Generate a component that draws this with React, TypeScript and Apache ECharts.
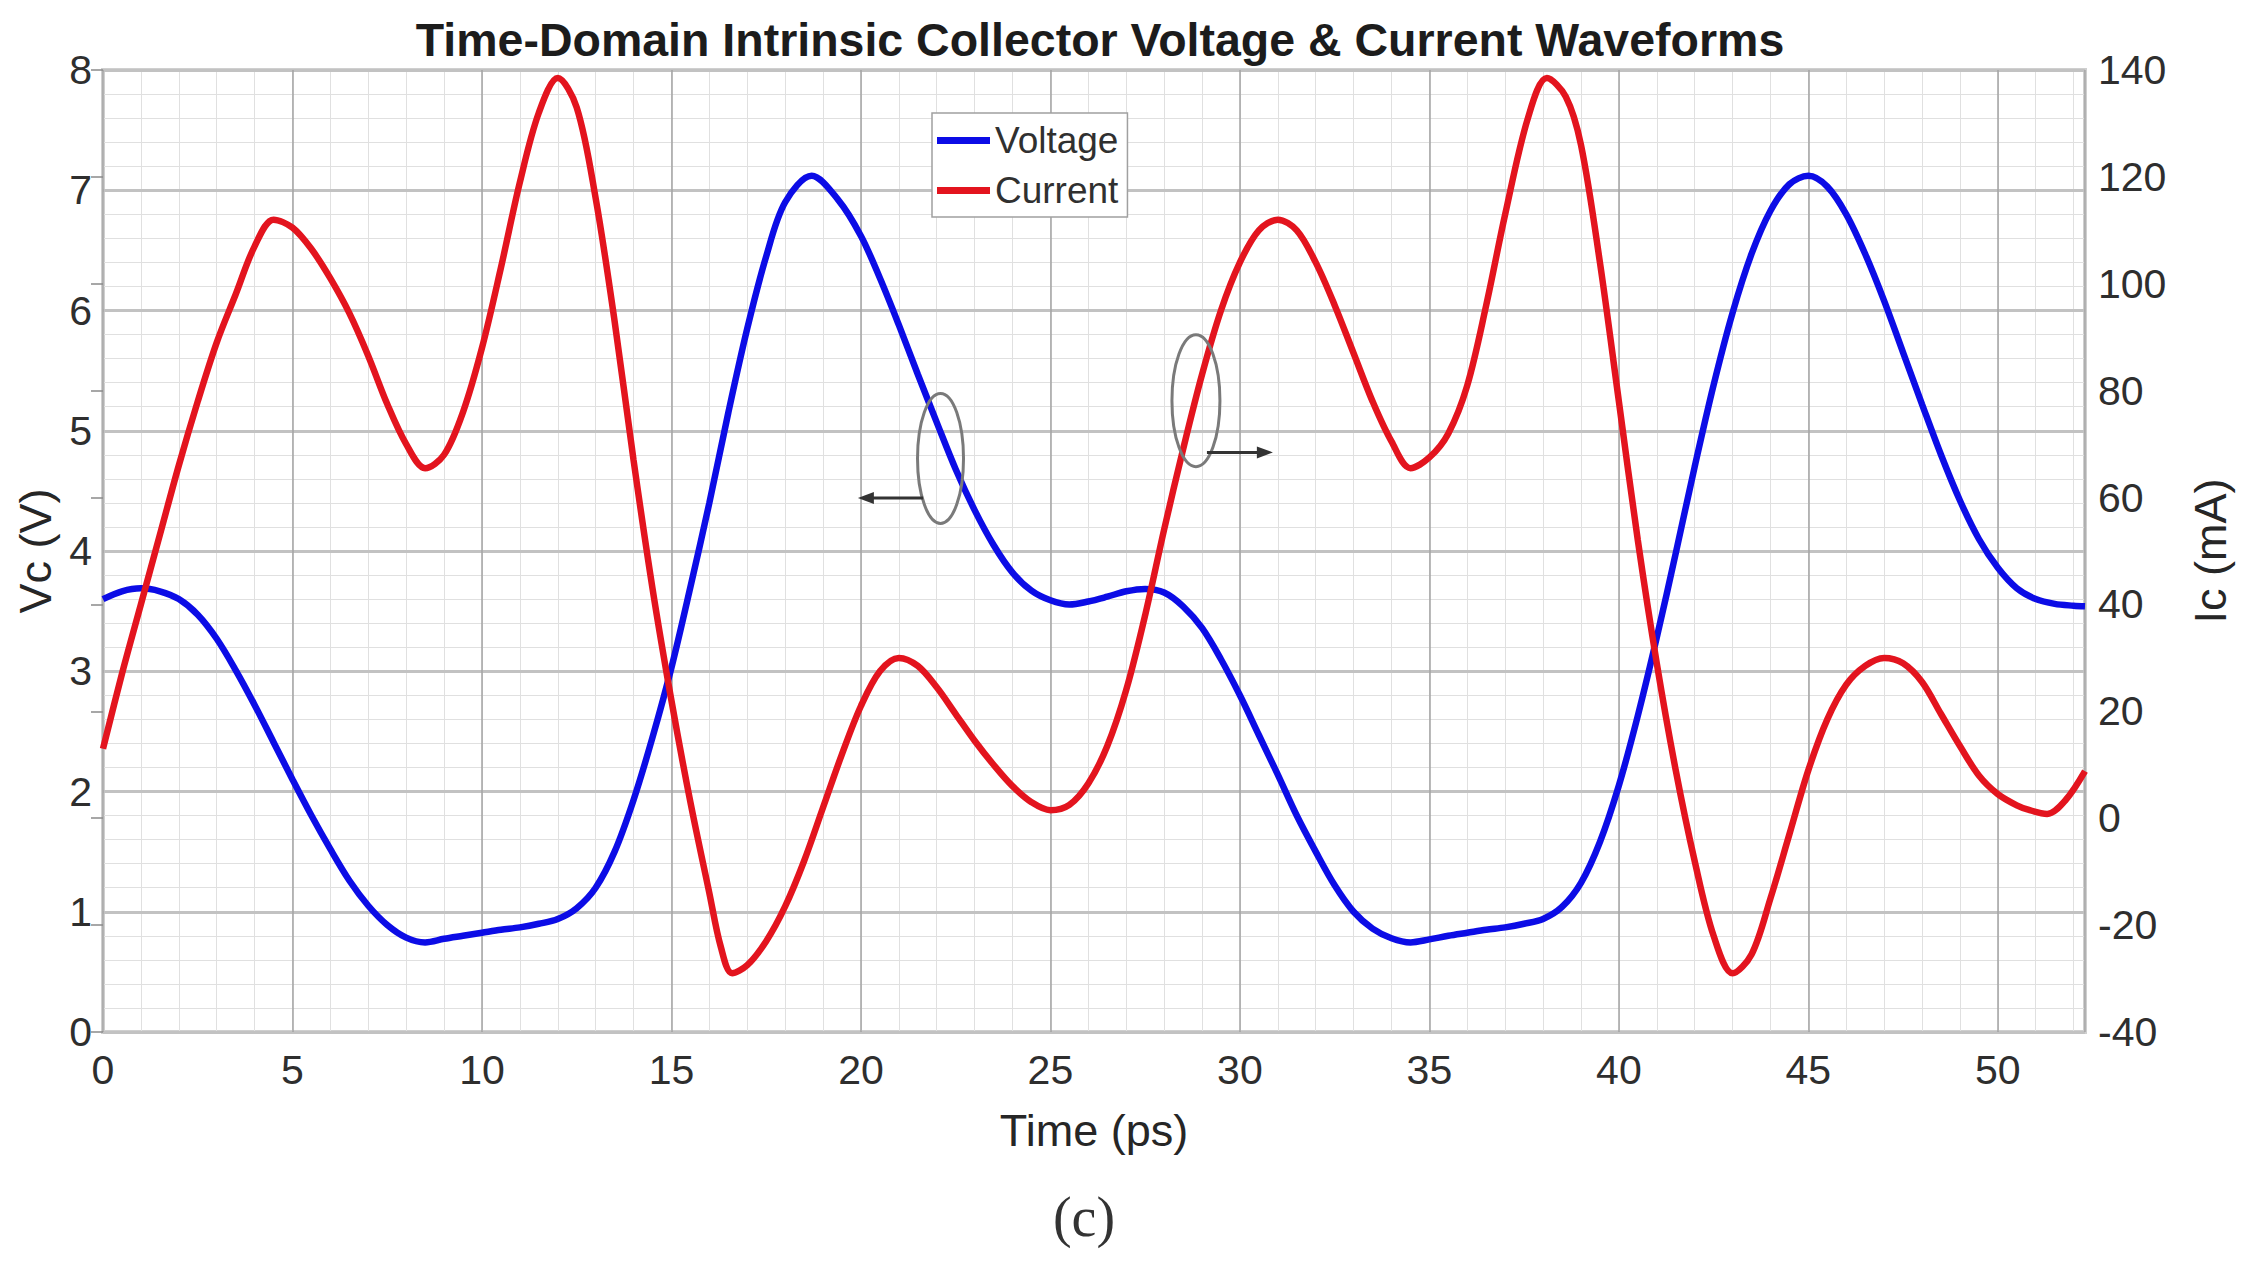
import React, { useEffect, useRef } from "react";
import * as echarts from "echarts";

const TITLE = "Time-Domain Intrinsic Collector Voltage & Current Waveforms";
const X_NAME = "Time (ps)";
const Y_LEFT_NAME = "Vc (V)";
const Y_RIGHT_NAME = "Ic (mA)";
const CAPTION = "(c)";
const SERIES_NAMES = ["Voltage", "Current"];

// collector voltage: sample times (ps) and values (V)
const voltageTime = [
  0, 0.5, 1, 1.5, 2, 2.5, 3, 3.5, 4, 4.5, 5, 5.5, 6, 6.5, 7, 7.5, 8, 8.5, 9, 9.5, 10, 10.5, 11, 11.5, 12,
  12.5, 13, 13.5, 14, 14.5, 15, 15.5, 16, 16.5, 17, 17.5, 18, 18.7, 19.4, 20, 20.5, 21, 21.5, 22, 22.5, 23,
  23.5, 24, 24.5, 25, 25.5, 26, 26.5, 27, 27.5, 28, 28.5, 29, 29.5, 30, 30.5, 31, 31.5, 32, 32.5, 33, 33.5,
  34, 34.5, 35, 35.5, 36, 36.5, 37, 37.5, 38, 38.5, 39, 39.5, 40, 40.5, 41, 41.5, 42, 42.5, 43, 43.5, 44,
  44.5, 45, 45.5, 46, 46.5, 47, 47.5, 48, 48.5, 49, 49.5, 50, 50.5, 51, 51.5, 52, 52.3,
];
const voltage = [
  3.6, 3.665, 3.69, 3.665, 3.6, 3.47, 3.27, 3.01, 2.72, 2.41, 2.1, 1.8, 1.52, 1.26, 1.05, 0.89, 0.785, 0.745,
  0.775, 0.8, 0.825, 0.85, 0.87, 0.9, 0.94, 1.03, 1.2, 1.5, 1.93, 2.45, 3.03, 3.7, 4.4, 5.15, 5.85, 6.45,
  6.9, 7.12, 6.92, 6.62, 6.27, 5.88, 5.47, 5.07, 4.68, 4.34, 4.05, 3.82, 3.67, 3.59, 3.555, 3.58, 3.62, 3.665,
  3.685, 3.655, 3.54, 3.36, 3.1, 2.8, 2.47, 2.14, 1.8, 1.5, 1.22, 1.0, 0.86, 0.78, 0.745, 0.77, 0.8, 0.825,
  0.85, 0.87, 0.9, 0.94, 1.04, 1.24, 1.58, 2.05, 2.63, 3.28, 3.98, 4.7, 5.38, 5.98, 6.47, 6.83, 7.05, 7.12,
  7.03, 6.8, 6.47, 6.08, 5.65, 5.22, 4.8, 4.42, 4.1, 3.86, 3.69, 3.6, 3.56, 3.545, 3.54,
];

// collector current: sample times (ps) and values (mA)
const currentTime = [
  0, 0.5, 1, 1.5, 2, 2.5, 3, 3.5, 4, 4.5, 5, 5.5, 6, 6.5, 7, 7.5, 8, 8.5, 9, 9.5, 10, 10.5, 11, 11.5, 12,
  12.5, 13, 13.5, 14, 14.5, 15, 15.5, 16, 16.3, 16.6, 17, 17.5, 18, 18.5, 19, 19.5, 20, 20.5, 21, 21.5, 22,
  22.5, 23, 23.5, 24, 24.5, 25, 25.5, 26, 26.5, 27, 27.5, 28, 28.5, 29, 29.5, 30, 30.5, 31, 31.5, 32, 32.5,
  33, 33.5, 34, 34.5, 35, 35.5, 36, 36.5, 37, 37.6, 38.1, 38.6, 39, 39.5, 40, 40.5, 41, 41.5, 42, 42.5, 43,
  43.5, 44, 44.5, 45, 45.5, 46, 46.5, 47, 47.5, 48, 48.5, 49, 49.5, 50, 50.5, 50.8, 51.3, 51.8, 52.3,
];
const current = [
  13, 27, 40, 53, 66, 78, 89, 98, 107, 112, 110.5, 106.5, 101, 94.5, 86.5, 77.5, 70, 65.5, 68, 76, 88, 103,
  119, 132, 138.5, 133, 116, 93, 67, 43, 22, 3, -14, -24, -29, -27.5, -23, -16.5, -8, 2, 12, 21, 27.5, 30,
  28.5, 24.5, 19.5, 14.5, 10, 6, 3, 1.5, 2.5, 6.5, 13.5, 24, 38, 54, 69, 83, 95, 104, 110, 112, 110, 104, 96,
  87, 78, 70.5, 65.5, 67.5, 72, 81, 96, 113, 131, 138.5, 135, 126, 104, 78, 52, 29, 9, -8, -22, -29, -25.5,
  -15, -3, 9, 18.5, 25, 28.5, 30, 29, 25.5, 19.5, 13.5, 8, 4.5, 2.4, 1.6, 0.8, 3.5, 8.8,
];

// annotation anchors in data coordinates (time, Vc)
const leftRing = { t: 22.1, v: 4.77 };
const leftArrow = { from: 21.64, to: 19.92, v: 4.44 };
const rightRing = { t: 28.84, v: 5.25 };
const rightArrow = { from: 29.13, to: 30.87, v: 4.82 };

const FONT = "'Liberation Sans', Arial, Helvetica, sans-serif";

export default function App() {
  const ref = useRef<HTMLDivElement>(null);

  useEffect(() => {
    document.body.style.margin = "0";
    const chart = echarts.init(ref.current!, undefined, { renderer: "svg" });

    const vData = voltageTime.map((t, i) => [t, voltage[i]]);
    const iData = currentTime.map((t, i) => [t, current[i]]);

    const labelStyle = { fontFamily: FONT, fontSize: 41, color: "#2e2e2e" };

    const option: any = {
      animation: false,
      backgroundColor: "#ffffff",
      title: {
        text: TITLE,
        left: 1095,
        textAlign: "center",
        top: 11,
        textStyle: { fontFamily: FONT, fontSize: 46.5, fontWeight: "bold", color: "#1c1c1c" },
      },
      legend: {
        orient: "vertical",
        left: 932,
        top: 113,
        icon: "rect",
        itemWidth: 53,
        itemHeight: 7,
        itemGap: 13,
        padding: [9, 9, 8, 5],
        borderColor: "#a0a0a0",
        borderWidth: 1.5,
        backgroundColor: "#ffffff",
        selectedMode: false,
        data: SERIES_NAMES,
        textStyle: { fontFamily: FONT, fontSize: 37, color: "#303030" },
        z: 10,
      },
      grid: {
        left: 103,
        top: 70,
        width: 1982,
        height: 962,
        show: true,
        borderColor: "#cfcfcf",
        borderWidth: 4,
        backgroundColor: "#ffffff",
      },
      xAxis: [
        {
          type: "value",
          min: 0,
          max: 52.3,
          interval: 5,
          z: 1,
          name: X_NAME,
          nameLocation: "middle",
          nameGap: 76,
          nameTextStyle: { fontFamily: FONT, fontSize: 45, color: "#262626" },
          axisLine: { show: false },
          axisTick: { show: false },
          axisLabel: { ...labelStyle, margin: 17, showMaxLabel: false },
          splitLine: { show: true, lineStyle: { color: "#a3a3a3", width: 1.5 } },
        },
        {
          type: "value",
          min: 0,
          max: 52.3,
          interval: 1,
          z: 0,
          axisLine: { show: false },
          axisTick: { show: false },
          axisLabel: { show: false },
          splitLine: { show: true, lineStyle: { color: "#e0e0e0", width: 1 } },
        },
      ],
      yAxis: [
        {
          type: "value",
          min: 0,
          max: 8,
          interval: 1,
          position: "left",
          z: 1,
          name: Y_LEFT_NAME,
          nameLocation: "middle",
          nameGap: 41,
          nameTextStyle: { fontFamily: FONT, fontSize: 45, color: "#262626" },
          axisLine: { show: false },
          axisTick: { show: false },
          axisLabel: { ...labelStyle, margin: 11 },
          splitLine: { show: true, lineStyle: { color: "#c2c2c2", width: 3 } },
        },
        {
          type: "value",
          min: -40,
          max: 140,
          interval: 20,
          position: "right",
          z: 1,
          name: Y_RIGHT_NAME,
          nameLocation: "middle",
          nameGap: 103,
          nameTextStyle: { fontFamily: FONT, fontSize: 45, color: "#262626" },
          axisLine: { show: false },
          axisTick: { show: true, inside: true, length: 12, lineStyle: { color: "#8a8a8a", width: 1.5 } },
          axisLabel: { ...labelStyle, margin: 13 },
          splitLine: { show: false },
        },
        {
          type: "value",
          min: 0,
          max: 8,
          interval: 0.2,
          position: "left",
          z: 0,
          axisLine: { show: false },
          axisTick: { show: false },
          axisLabel: { show: false },
          splitLine: { show: true, lineStyle: { color: "#e0e0e0", width: 1 } },
        },
      ],
      series: [
        {
          name: SERIES_NAMES[0],
          type: "line",
          xAxisIndex: 0,
          yAxisIndex: 0,
          data: vData,
          showSymbol: false,
          symbol: "none",
          smooth: 0.33,
          z: 3,
          color: "#0c0ce6",
          lineStyle: { color: "#0c0ce6", width: 6.5 },
        },
        {
          name: SERIES_NAMES[1],
          type: "line",
          xAxisIndex: 0,
          yAxisIndex: 1,
          data: iData,
          showSymbol: false,
          symbol: "none",
          smooth: 0.33,
          z: 3,
          color: "#e3141e",
          lineStyle: { color: "#e3141e", width: 6.5 },
        },
      ],
    };

    chart.setOption(option);

    const px = (t: number, v: number) =>
      chart.convertToPixel({ xAxisIndex: 0, yAxisIndex: 0 }, [t, v]) as number[];

    const ringStyle = { fill: "none", stroke: "#7a7a7a", lineWidth: 3 };
    const arrowStyle = { stroke: "#333333", lineWidth: 3 };

    const lc = px(leftRing.t, leftRing.v);
    const la0 = px(leftArrow.from, leftArrow.v);
    const la1 = px(leftArrow.to, leftArrow.v);
    const rc = px(rightRing.t, rightRing.v);
    const ra0 = px(rightArrow.from, rightArrow.v);
    const ra1 = px(rightArrow.to, rightArrow.v);

    chart.setOption({
      graphic: [
        { type: "ellipse", shape: { cx: lc[0], cy: lc[1], rx: 23, ry: 65 }, style: ringStyle, z: 20 },
        { type: "line", shape: { x1: la0[0], y1: la0[1], x2: la1[0] + 14, y2: la1[1] }, style: arrowStyle, z: 20 },
        {
          type: "polygon",
          shape: { points: [[la1[0], la1[1]], [la1[0] + 16, la1[1] - 6], [la1[0] + 16, la1[1] + 6]] },
          style: { fill: "#333333" },
          z: 20,
        },
        { type: "ellipse", shape: { cx: rc[0], cy: rc[1], rx: 24, ry: 66 }, style: ringStyle, z: 20 },
        { type: "line", shape: { x1: ra0[0], y1: ra0[1], x2: ra1[0] - 14, y2: ra1[1] }, style: arrowStyle, z: 20 },
        {
          type: "polygon",
          shape: { points: [[ra1[0], ra1[1]], [ra1[0] - 16, ra1[1] - 6], [ra1[0] - 16, ra1[1] + 6]] },
          style: { fill: "#333333" },
          z: 20,
        },
        {
          type: "text",
          x: 1084,
          y: 1217,
          style: {
            text: CAPTION,
            fontFamily: "'Liberation Serif', 'DejaVu Serif', serif",
            fontSize: 56,
            fill: "#333333",
            textAlign: "center",
            textVerticalAlign: "middle",
          },
          z: 20,
        },
      ],
    });

    return () => chart.dispose();
  }, []);

  return <div ref={ref} style={{ width: 2245, height: 1263 }} />;
}
